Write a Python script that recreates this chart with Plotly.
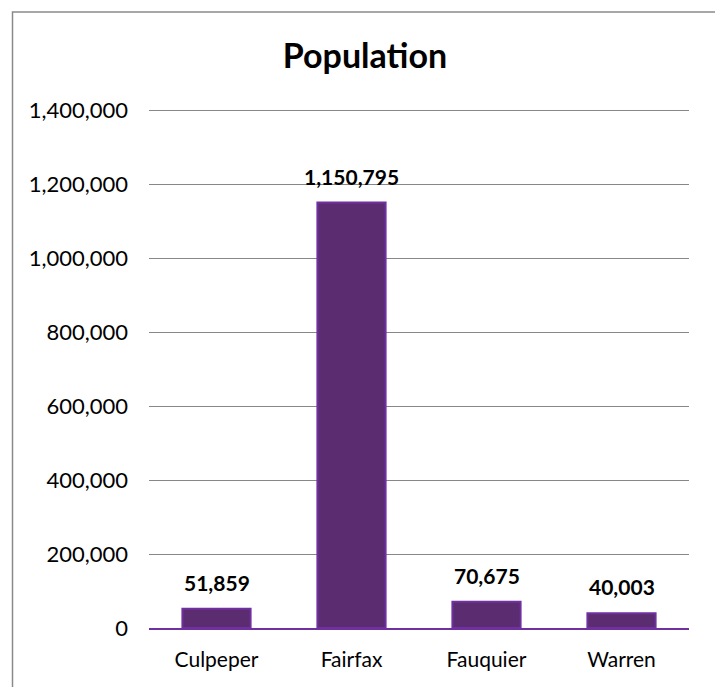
import plotly.graph_objects as go

categories = ["Culpeper", "Fairfax", "Fauquier", "Warren"]
population = [51859, 1150795, 70675, 40003]
tick_vals = [0, 200000, 400000, 600000, 800000, 1000000, 1200000, 1400000]
tick_text = ["0", "200,000", "400,000", "600,000", "800,000", "1,000,000", "1,200,000", "1,400,000"]

# page has an 8px body margin; figure coordinates are offset accordingly
OFF = 8
ymax = 1420000
W, H = 723 - OFF, 687 - OFF
B = 59
ph = 518 * ymax / 1400000
L, R = 149 - OFF, 34
T = H - B - ph
pw = W - L - R

fig = go.Figure()
fig.add_trace(go.Bar(
    x=categories, y=population,
    marker=dict(color="#5B2C6F", line=dict(color="#7030A0", width=2)),
    width=0.505, hoverinfo="skip",
))

for c, v in zip(categories, population):
    fig.add_annotation(x=c, y=v, text=f"<b>{v:,}</b>", showarrow=False,
                       yanchor="bottom", yshift=12,
                       font=dict(family="Lato", size=21, color="#000000"))

fig.add_shape(type="rect", xref="paper", yref="paper",
              x0=(12.5 - OFF - L) / pw, x1=(717.5 - OFF - L) / pw,
              y0=(H - B - 700) / ph, y1=(H - B - (11.5 - OFF)) / ph,
              line=dict(color="#8a8a8a", width=1.5), layer="below")

fig.update_layout(
    width=W, height=H,
    margin=dict(l=L, r=R, t=T, b=B),
    paper_bgcolor="white", plot_bgcolor="white",
    showlegend=False,
    title=dict(text="<b>Population</b>", x=(365 - OFF) / W, xanchor="center",
               y=1 - (56 - OFF) / H, yanchor="middle",
               font=dict(family="Lato", size=34, color="#000000")),
    font=dict(family="Lato", size=21, color="#000000"),
    xaxis=dict(showline=True, linecolor="#7030A0", linewidth=2,
               showgrid=False, ticks="", ticklabelstandoff=12,
               tickfont=dict(family="Lato", size=21, color="#000000")),
    yaxis=dict(range=[0, ymax], tickvals=tick_vals, ticktext=tick_text,
               showgrid=True, gridcolor="#878787", gridwidth=1,
               showline=False, zeroline=False, ticks="", ticklabelstandoff=20,
               tickfont=dict(family="Lato", size=22, color="#000000")),
)

fig.write_html("out.html")
